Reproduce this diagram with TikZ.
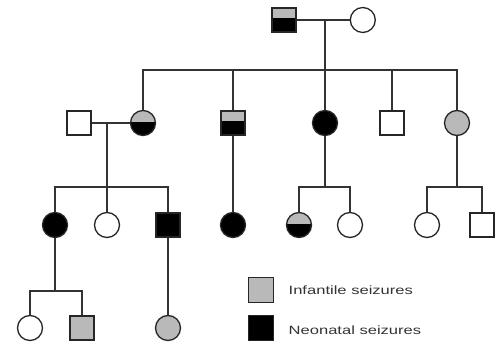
\documentclass[tikz,border=0pt]{standalone}
\usepackage{fontspec}
\setmainfont{Liberation Sans}
\usetikzlibrary{positioning}

\tikzset{
	male/.style={draw=black!85, rectangle, minimum size=24pt, inner sep=0pt, line width=1.3pt},
	female/.style={draw=black!85, circle, minimum size=25pt, inner sep=0pt, line width=1.3pt},
	infantile/.style={fill=gray!55},
	neonatal/.style={fill=black},
	both/.style={path picture={
		\fill[gray!55] (path picture bounding box.north west) rectangle ([yshift=#1]path picture bounding box.east);
		\fill[black] ([yshift=#1]path picture bounding box.west) rectangle (path picture bounding box.south east);}},
	legtext/.style={right, text=black!80, font=\fontsize{12}{14}\selectfont},
	line/.style={draw=black!80, line width=1.4pt}
}

\begin{document}
\begin{tikzpicture}[x=1pt, y=-1pt]
	\useasboundingbox (0,0) rectangle (501,345);

	% generation I
	\node[male, both=2.4pt] (gf) at (284,20) {};
	\node[female] (gm) [right=53pt of gf] {};
	\coordinate (m1) at (325,20);
	\coordinate (s1) at (325,70);

	% generation II
	\node[male] (sp1) at (79,123) {};
	\node[female, both=1pt] (d1) at (143,123) {};
	\node[male, both=2.4pt] (s2) at (233,123) {};
	\node[female, neonatal] (d2) at (325,123) {};
	\node[male] (s3) at (392,123) {};
	\node[female, infantile] (d3) at (457,123) {};
	\coordinate (m2) at (107,123);

	% generation III
	\coordinate (s4) at (107,187);
	\node[female, neonatal] (g1) at (55,225) {};
	\node[female] (g2) at (107,225) {};
	\node[male, neonatal] (g3) at (168,225) {};
	\node[female, neonatal] (g4) at (233,225) {};
	\coordinate (s5) at (325,187);
	\node[female, both=1pt] (g5) at (299,225) {};
	\node[female] (g6) at (350,225) {};
	\coordinate (s6) at (457,187);
	\node[female] (g7) at (427,225) {};
	\node[male] (g8) at (482,225) {};

	% generation IV
	\coordinate (s7) at (55,291);
	\node[female] (h1) at (30,328) {};
	\node[male, infantile] (h2) at (82,328) {};
	\node[female, infantile] (h3) at (168,328) {};

	% legend
	\node[male, infantile, minimum size=25pt] (li) at (261,290) {};
	\node[male, neonatal, minimum size=25pt] (ln) at (261,328) {};
	\node[legtext] (lit) [right=11pt of li] {\scalebox{1.38}[1]{Infantile seizures}};
	\node[legtext] (lnt) [right=11pt of ln, yshift=-2pt] {\scalebox{1.38}[1]{Neonatal seizures}};

	\path[line] (gf) -- (gm);
	\path[line] (m1) -- (s1);
	\path[line] (d1.north) |- (s1) -| (d3.north);
	\path[line] (s2) -- (s2 |- s1);
	\path[line] (d2) -- (d2 |- s1);
	\path[line] (s3) -- (s3 |- s1);

	\path[line] (sp1) -- (d1);
	\path[line] (m2) -- (s4);
	\path[line] (g1.north) |- (s4) -| (g3.north);
	\path[line] (g2) -- (s4);
	\path[line] (s2) -- (g4);
	\path[line] (d2) -- (s5);
	\path[line] (g5.north) |- (s5) -| (g6.north);
	\path[line] (d3) -- (s6);
	\path[line] (g7.north) |- (s6) -| (g8.north);

	\path[line] (g1) -- (s7);
	\path[line] (h1.north) |- (s7) -| (h2.north);
	\path[line] (g3) -- (h3);

\end{tikzpicture}
\end{document}
